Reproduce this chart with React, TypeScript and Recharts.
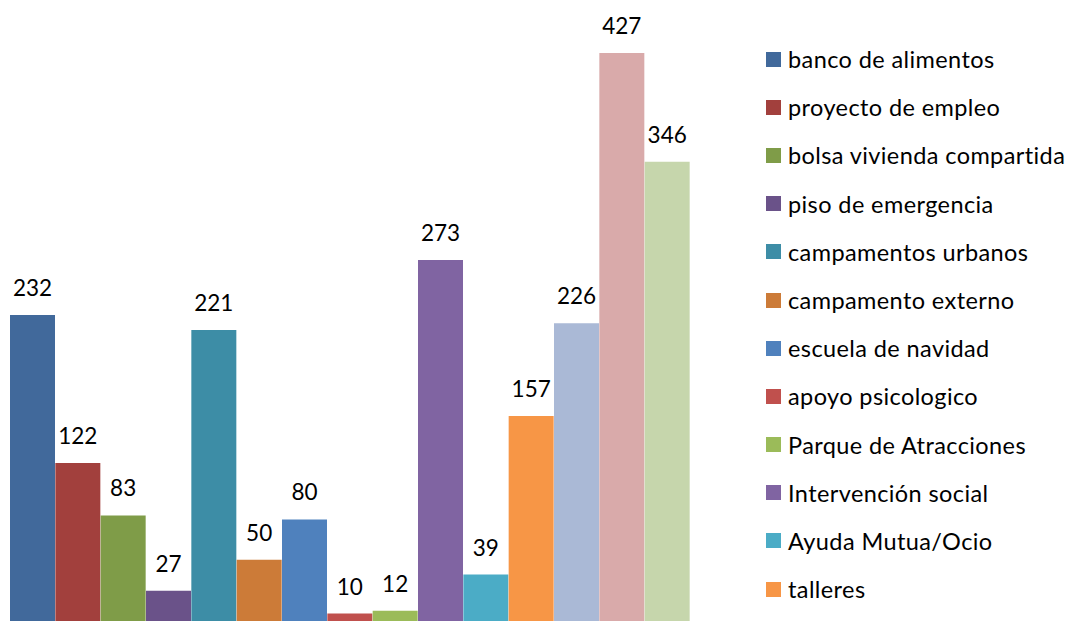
import { BarChart, Bar, XAxis, YAxis, Cell, LabelList } from "recharts"

// values of the 15 bars, left to right
const values = [232, 122, 83, 27, 221, 50, 80, 10, 12, 273, 39, 157, 226, 427, 346]

const colors = [
  "#41699B", "#A2403D", "#7F9C48", "#6A5289", "#3D8DA6", "#CC7B38",
  "#4F81BD", "#C0504D", "#9BBB59", "#8064A2", "#4BACC6", "#F79646",
  "#AAB9D6", "#D9AAAA", "#C6D6AC",
]

// only the first 12 series names fit in the legend
const legendNames = [
  "banco de alimentos",
  "proyecto de empleo",
  "bolsa vivienda compartida",
  "piso de emergencia",
  "campamentos urbanos",
  "campamento externo",
  "escuela de navidad",
  "apoyo psicologico",
  "Parque de Atracciones",
  "Intervención social",
  "Ayuda Mutua/Ocio",
  "talleres",
]

const yDomain = [0, 450]

const font = "Lato, 'Open Sans', sans-serif"

export default function App() {
  const data = values.map((v, i) => ({ idx: i, value: v }))

  return (
    <div
      style={{
        position: "absolute",
        left: 0,
        top: 0,
        width: 1074,
        height: 621,
        overflow: "hidden",
        background: "#fff",
        fontFamily: font,
      }}
    >
      <BarChart
        width={1074}
        height={640}
        data={data}
        margin={{ top: 22, right: 384, bottom: 13, left: 10 }}
        barCategoryGap={0}
        barGap={0}
      >
        <XAxis dataKey="idx" hide />
        <YAxis hide domain={yDomain} />
        <Bar dataKey="value" isAnimationActive={false}>
          {data.map((d, i) => (
            <Cell key={i} fill={colors[i]} />
          ))}
          <LabelList
            dataKey="value"
            position="top"
            offset={19}
            fill="#000"
            style={{ fontFamily: font, fontSize: 22.5 }}
          />
        </Bar>
      </BarChart>

      <div style={{ position: "absolute", left: 766, top: 35 }}>
        {legendNames.map((name, i) => (
          <div
            key={name}
            style={{ display: "flex", alignItems: "center", height: 48.2, whiteSpace: "nowrap" }}
          >
            <span
              style={{ display: "inline-block", width: 15, height: 15, background: colors[i], marginRight: 7 }}
            />
            <span style={{ fontSize: 23.5, letterSpacing: 0.4, color: "#000", lineHeight: "24px" }}>
              {name}
            </span>
          </div>
        ))}
      </div>
    </div>
  )
}
